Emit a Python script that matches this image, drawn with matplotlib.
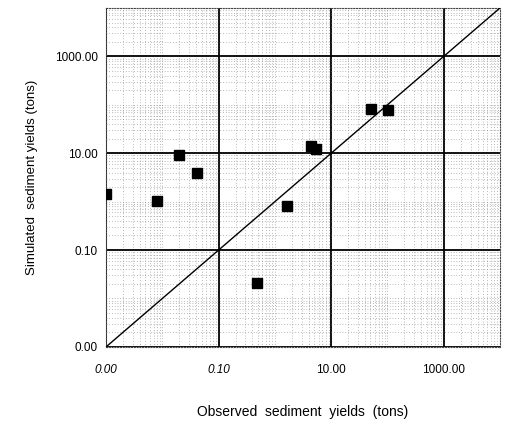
import matplotlib
matplotlib.use('Agg')
import matplotlib.pyplot as plt
from matplotlib.ticker import LogLocator, FixedLocator, NullFormatter
import numpy as np

# observed vs simulated sediment yields (tons)
observed = [0.001, 0.0082, 0.0196, 0.041, 4.4, 5.3, 1.63, 51, 102, 0.48]
simulated = [1.45, 1.04, 9.1, 3.9, 14.2, 12.3, 0.82, 83, 79, 0.021]

axis_min, axis_max = 0.001, 10000
major_ticks = [0.001, 0.1, 10, 1000]
tick_labels = ['0.00', '0.10', '10.00', '1000.00']

plt.rcParams['font.family'] = ['Liberation Sans', 'DejaVu Sans']

fig = plt.figure(figsize=(5.05, 4.21), dpi=100)
ax = fig.add_axes([0.21, 0.176, 0.78, 0.805])

ax.set_xscale('log')
ax.set_yscale('log')
ax.set_xlim(axis_min, axis_max)
ax.set_ylim(axis_min, axis_max)

# 1:1 line
ax.plot([axis_min, axis_max], [axis_min, axis_max], color='black', lw=1.0, zorder=3)
ax.plot(observed, simulated, 's', color='black', markersize=7, zorder=4)

for axis in (ax.xaxis, ax.yaxis):
    axis.set_major_locator(FixedLocator(major_ticks))
    axis.set_minor_locator(LogLocator(base=10, subs=np.arange(1, 10), numticks=20))
    axis.set_minor_formatter(NullFormatter())
ax.set_xticklabels(tick_labels)
ax.set_yticklabels(tick_labels)
for i, lbl in enumerate(ax.get_xticklabels()):
    if i < 2:
        lbl.set_fontstyle('italic')

ax.tick_params(which='both', length=0, labelsize=8.5, colors='black')
ax.tick_params(axis='x', pad=12)
ax.tick_params(axis='y', pad=6)

ax.grid(which='major', color='black', lw=1.3, linestyle='-', zorder=1)
ax.grid(which='minor', color='#7a7a7a', lw=0.5, linestyle=(0, (1, 3)), zorder=0)
ax.set_axisbelow(True)

for sp in ax.spines.values():
    sp.set_linestyle((0, (1, 1.5)))
    sp.set_linewidth(0.8)
    sp.set_color('#444444')

ax.set_xlabel('Observed  sediment  yields  (tons)', fontsize=10, labelpad=21)
ax.set_ylabel('Simulated  sediment yields (tons)', fontsize=9.5, labelpad=12)

fig.savefig('out.png', dpi=100)
